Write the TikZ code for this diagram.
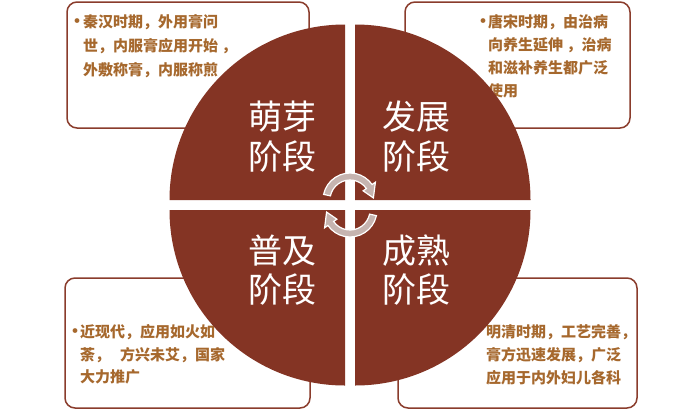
\documentclass[tikz,border=0pt]{standalone}
\usepackage{fontspec}
\newfontfamily\cjk{Noto Sans CJK SC}
\definecolor{circ}{RGB}{132,52,36}
\definecolor{bord}{RGB}{138,60,44}
\definecolor{txt}{RGB}{166,104,45}
\definecolor{arr}{RGB}{198,180,176}
\begin{document}
\begin{tikzpicture}[x=1pt,y=-1pt,
  box/.style={draw=bord,line width=1.5pt,rounded corners=10pt},
  btxt/.style={anchor=base west,inner sep=0,text=txt,font=\cjk\bfseries\fontsize{15}{18}\selectfont},
  bul/.style={anchor=base,inner sep=0,text=txt,font=\cjk\bfseries\fontsize{17}{18}\selectfont},
  quad/.style={fill=circ},
  ctxt/.style={anchor=center,inner sep=0,text=white,font=\cjk\fontsize{34}{40}\selectfont},
  cyc/.style={fill=arr,draw=white,line width=1.2pt,line join=miter}]
\useasboundingbox (0,0) rectangle (700,410);
\fill[white] (0,0) rectangle (700,410);
% boxes
\draw[box] (67,2) rectangle (309,128);
\draw[box] (405,2) rectangle (630,128);
\draw[box] (65,278) rectangle (310,408);
\draw[box] (398,278) rectangle (637,408);
% box texts
\node[bul] (b1) at (77,27.2) {•};
\node[btxt] (t11) at (83,27.2) {秦汉时期，外用膏问};
\node[btxt] (t12) at (83,51.5) {世，内服膏应用开始 ，};
\node[btxt] (t13) at (83,75.5) {外敷称膏，内服称煎};
\node[bul] (b2) at (483,27.2) {•};
\node[btxt] (t21) at (488,27.2) {唐宋时期，由治病};
\node[btxt] (t22) at (488,50.5) {向养生延伸 ，治病};
\node[btxt] (t23) at (488,73.5) {和滋补养生都广泛};
\node[btxt] (t24) at (488,96) {使用};
\node[bul] (b3) at (75,337.4) {•};
\node[btxt] (t31) at (80,337.4) {近现代，应用如火如};
\node[btxt] (t32) at (80,360.4) {荼，\hspace{10pt}方兴未艾，国家};
\node[btxt] (t33) at (80,382.6) {大力推广};
\node[btxt] (t41) at (486,337.4) {明清时期，工艺完善，};
\node[btxt] (t42) at (486,360.6) {膏方迅速发展，广泛};
\node[btxt] (t43) at (486,383.7) {应用于内外妇儿各科};
% circle quadrants
\fill[quad] (345,200) -- ++(-175.5,0) arc[start angle=180,end angle=270,radius=175.5] -- cycle;
\fill[quad] (355,200) -- ++(0,-175.5) arc[start angle=270,end angle=360,radius=175.5] -- cycle;
\fill[quad] (345,210) -- ++(0,175.5) arc[start angle=90,end angle=180,radius=175.5] -- cycle;
\fill[quad] (355,210) -- ++(175.5,0) arc[start angle=0,end angle=90,radius=175.5] -- cycle;
% circle texts
\node[ctxt] (q1a) at (282.5,116.5) {萌芽};
\node[ctxt] (q1b) at (282.5,156.5) {阶段};
\node[ctxt] (q2a) at (416.5,116.5) {发展};
\node[ctxt] (q2b) at (416.5,156.5) {阶段};
\node[ctxt] (q3a) at (282.5,251) {普及};
\node[ctxt] (q3b) at (282.5,290) {阶段};
\node[ctxt] (q4a) at (416.5,251) {成熟};
\node[ctxt] (q4b) at (416.5,290) {阶段};
% cycle arrows
\coordinate (ua) at (350,200);
\coordinate (la) at (350,210);
\path[cyc] ([shift={(192:27)}]ua) arc[start angle=192,end angle=325,radius=27]
  -- ([shift={(325:31)}]ua) -- ([shift={(355:23.5)}]ua) -- ([shift={(325:16)}]ua)
  -- ([shift={(325:20)}]ua) arc[start angle=325,end angle=192,radius=20] -- cycle;
\path[cyc] ([shift={(12:27)}]la) arc[start angle=12,end angle=145,radius=27]
  -- ([shift={(145:31)}]la) -- ([shift={(175:23.5)}]la) -- ([shift={(145:16)}]la)
  -- ([shift={(145:20)}]la) arc[start angle=145,end angle=12,radius=20] -- cycle;
\end{tikzpicture}
\end{document}
